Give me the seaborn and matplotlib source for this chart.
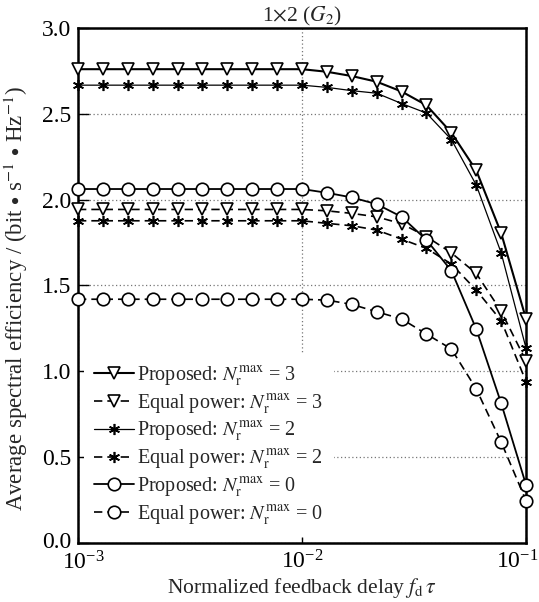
import numpy as np
import pandas as pd
import matplotlib
matplotlib.use("Agg")
import matplotlib.pyplot as plt
import matplotlib.transforms as mtransforms
import seaborn as sns
from matplotlib.ticker import FixedLocator, FormatStrFormatter, LogFormatterMathtext, NullLocator

# ---- data ----
fd_tau = [0.001, 0.001292, 0.001668, 0.002154, 0.002783, 0.003594, 0.004642,
          0.005995, 0.007743, 0.01, 0.01292, 0.01668, 0.02154, 0.02783,
          0.03594, 0.04642, 0.05995, 0.07743, 0.1]

prop_n3 = [2.76, 2.76, 2.76, 2.76, 2.76, 2.76, 2.76, 2.76, 2.76, 2.76,
           2.745, 2.72, 2.687, 2.63, 2.55, 2.39, 2.17, 1.805, 1.305]
eq_n3 = [1.943, 1.943, 1.943, 1.943, 1.943, 1.943, 1.943, 1.943, 1.943, 1.943,
         1.935, 1.92, 1.90, 1.86, 1.785, 1.69, 1.57, 1.35, 1.06]
prop_n2 = [2.667, 2.667, 2.667, 2.667, 2.667, 2.667, 2.667, 2.667, 2.667, 2.667,
           2.654, 2.635, 2.62, 2.56, 2.504, 2.35, 2.085, 1.69, 1.134]
eq_n2 = [1.877, 1.877, 1.877, 1.877, 1.877, 1.877, 1.877, 1.877, 1.877, 1.877,
         1.862, 1.848, 1.823, 1.77, 1.716, 1.625, 1.473, 1.295, 0.94]
prop_n0 = [2.062, 2.062, 2.062, 2.062, 2.062, 2.062, 2.062, 2.062, 2.062, 2.062,
           2.04, 2.013, 1.974, 1.90, 1.765, 1.586, 1.246, 0.814, 0.338]
eq_n0 = [1.42, 1.42, 1.42, 1.42, 1.42, 1.42, 1.42, 1.42, 1.42, 1.42,
         1.415, 1.39, 1.347, 1.305, 1.217, 1.13, 0.897, 0.588, 0.246]

labels = [r"Proposed: $N_{\mathrm{r}}^{\max}$ = 3",
          r"Equal power: $N_{\mathrm{r}}^{\max}$ = 3",
          r"Proposed: $N_{\mathrm{r}}^{\max}$ = 2",
          r"Equal power: $N_{\mathrm{r}}^{\max}$ = 2",
          r"Proposed: $N_{\mathrm{r}}^{\max}$ = 0",
          r"Equal power: $N_{\mathrm{r}}^{\max}$ = 0"]
series = [prop_n3, eq_n3, prop_n2, eq_n2, prop_n0, eq_n0]

x_ticks = [1e-3, 1e-2, 1e-1]
y_ticks = [0.0, 0.5, 1.0, 1.5, 2.0, 2.5, 3.0]

# ---- style ----
sns.set_style("ticks")
plt.rcParams["font.family"] = ["Liberation Serif", "DejaVu Serif"]
plt.rcParams["mathtext.fontset"] = "stix"

styles = [
    dict(marker="v", ls="-", lw=1.5, ms=9, mfc="white"),
    dict(marker="v", ls=(0, (5, 3)), lw=1.2, ms=9, mfc="white"),
    dict(marker=(6, 2, 0), ls="-", lw=0.9, ms=8, mfc="black"),
    dict(marker=(6, 2, 0), ls=(0, (5, 3)), lw=1.2, ms=8, mfc="black"),
    dict(marker="o", ls="-", lw=1.3, ms=9, mfc="white"),
    dict(marker="o", ls=(0, (5, 3)), lw=1.2, ms=9, mfc="white"),
]

fig = plt.figure(figsize=(5.39, 6.02), dpi=100)
ax = fig.add_axes([0.1447, 0.098, 0.8313, 0.8555])

for lab, vals, st in zip(labels, series, styles):
    df = pd.DataFrame({"x": fd_tau, "y": vals})
    sns.lineplot(data=df, x="x", y="y", ax=ax, color="black", label=lab,
                 marker=st["marker"], linestyle=st["ls"], linewidth=st["lw"],
                 markersize=st["ms"], markerfacecolor=st["mfc"],
                 markeredgecolor="black", markeredgewidth=1.2, clip_on=False,
                 zorder=3)

ax.set_xscale("log")
ax.set_xlim(1e-3, 1e-1)
ax.set_ylim(0, 3.0)
ax.xaxis.set_major_locator(FixedLocator(x_ticks))
ax.xaxis.set_minor_locator(NullLocator())
ax.xaxis.set_major_formatter(LogFormatterMathtext())
ax.yaxis.set_major_locator(FixedLocator(y_ticks))
ax.yaxis.set_major_formatter(FormatStrFormatter("%.1f"))

ax.grid(True, which="major", color="#777777", linestyle=(0, (1, 2)), linewidth=0.9)
ax.set_axisbelow(True)
ax.tick_params(axis="both", direction="in", labelsize=17, width=1.0, colors="black")
ax.tick_params(axis="y", length=8, pad=5)
ax.tick_params(axis="x", length=4, pad=5)
for sp in ax.spines.values():
    sp.set_visible(True)
    sp.set_linewidth(1.8)
    sp.set_color("black")

ax.set_xlabel(r"Normalized feedback delay $f_{\mathrm{d}}\,\tau$", fontsize=15.5, labelpad=1)
ax.set_ylabel(r"Average spectral efficiency / (bit $\bullet$ s$^{-1}$ $\bullet$ Hz$^{-1}$)",
              fontsize=16.5)
ax.yaxis.set_label_coords(-0.108, 0.475)
ax.set_title(r"1$\times$2 ($G_2$)", fontsize=15.5, pad=4)

# nudge the outer x tick labels (keep inside canvas / clear of the 0.0 label)
fig.canvas.draw()
xlabels = ax.get_xticklabels()
shift_r = mtransforms.ScaledTranslation(-9 / 100, 0, fig.dpi_scale_trans)
xlabels[-1].set_transform(xlabels[-1].get_transform() + shift_r)
shift_l = mtransforms.ScaledTranslation(5 / 100, -1 / 100, fig.dpi_scale_trans)
xlabels[0].set_transform(xlabels[0].get_transform() + shift_l)
ylabels = ax.get_yticklabels()
shift_y = mtransforms.ScaledTranslation(0, 3 / 100, fig.dpi_scale_trans)
ylabels[0].set_transform(ylabels[0].get_transform() + shift_y)

leg = ax.legend(loc="lower left", bbox_to_anchor=(0.0, 0.0), frameon=True,
                fontsize=14.5, handlelength=2.0, handletextpad=0.15,
                labelspacing=0.2, borderpad=0.5, borderaxespad=0.3,
                fancybox=False)
leg.get_frame().set_edgecolor("none")
leg.get_frame().set_facecolor("white")
leg.get_frame().set_alpha(1.0)

fig.savefig("out.png", dpi=100)
